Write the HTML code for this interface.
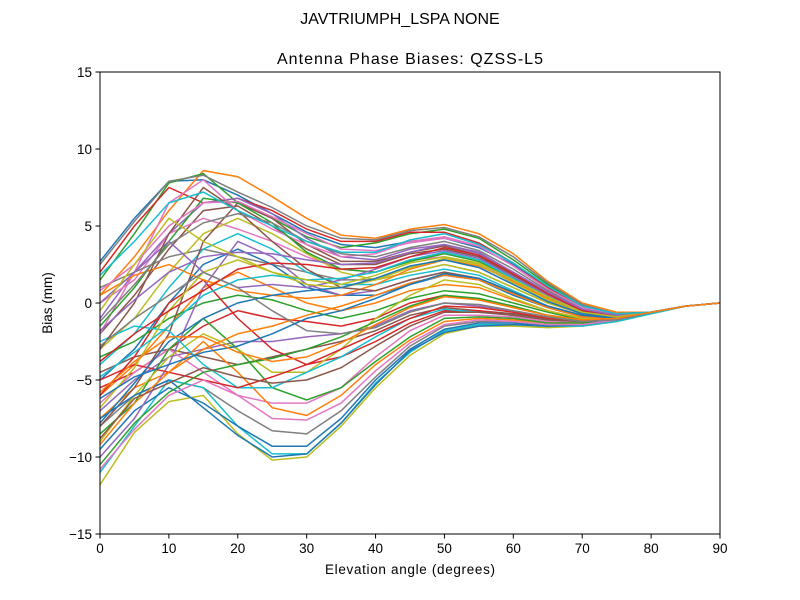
<!DOCTYPE html>
<html><head><meta charset="utf-8"><style>
html,body{margin:0;padding:0;background:#fff;}
svg{display:block;font-family:"Liberation Sans","DejaVu Sans",sans-serif;}
</style></head><body>
<svg id="chart" width="800" height="600">
<rect width="800" height="600" fill="#fff"/>
<text x="400" y="24" text-anchor="middle" font-size="16">JAVTRIUMPH_LSPA NONE</text>
<text x="410" y="64" text-anchor="middle" font-size="16" textLength="266">Antenna Phase Biases: QZSS-L5</text>
<g id="lines"></g>
<rect x="100" y="72" width="620" height="462" fill="none" stroke="#000" stroke-width="1"/>
<g id="xticks"></g>
<g id="yticks"></g>
<text x="410" y="574" text-anchor="middle" font-size="13.5" textLength="170">Elevation angle (degrees)</text>
<text transform="translate(52,303) rotate(-90)" text-anchor="middle" font-size="13.5">Bias (mm)</text>
</svg>
<script>
const elevations=[0,5,10,15,20,25,30,35,40,45,50,55,60,65,70,75,80,85,90];
const xTicks=[0,10,20,30,40,50,60,70,80,90];
const yTicks=[-15,-10,-5,0,5,10,15];
const s1=[2.7,5.5,7.9,8.0,7.0,5.8,4.6,3.8,3.6,4.0,4.2,3.6,2.5,1.0,-0.2,-0.7,-0.6,-0.2,0];
const s2=[0.5,3.0,6.0,8.6,8.2,6.9,5.5,4.4,4.2,4.8,5.1,4.5,3.2,1.4,0.0,-0.6,-0.6,-0.2,0];
const s3=[1.5,4.5,7.8,8.4,6.5,5.5,4.3,3.6,3.9,4.5,4.8,4.2,2.8,1.2,-0.2,-0.7,-0.6,-0.2,0];
const s4=[2.0,5.0,7.5,6.5,6.8,6.0,4.8,4.0,4.0,4.6,4.6,3.9,2.6,1.0,-0.3,-0.8,-0.6,-0.2,0];
const s5=[-1.0,2.0,4.5,6.5,6.8,5.8,4.2,3.0,2.8,3.5,3.8,3.2,2.0,0.7,-0.4,-0.8,-0.6,-0.2,0];
const s6=[-2.0,0.5,3.5,6.0,6.3,5.0,3.5,2.5,2.5,3.2,3.5,3.0,1.8,0.5,-0.5,-0.8,-0.6,-0.2,0];
const s7=[0.0,1.5,4.5,5.5,4.8,4.0,3.0,2.2,2.0,2.8,3.0,2.5,1.5,0.3,-0.6,-0.9,-0.6,-0.2,0];
const s8=[1.0,2.0,3.0,3.5,3.0,2.5,2.0,1.5,1.5,2.0,2.5,2.0,1.0,0.0,-0.7,-0.9,-0.6,-0.2,0];
const s9=[-3.0,-1.0,2.0,4.5,5.5,4.5,3.2,2.0,1.5,2.0,2.5,2.0,1.0,0.0,-0.7,-0.9,-0.6,-0.2,0];
const s10=[-4.0,-2.0,1.0,3.5,4.5,3.5,2.0,1.2,1.2,1.8,2.2,1.8,0.8,-0.2,-0.8,-1.0,-0.6,-0.2,0];
const s11=[-5.0,-3.0,0.0,2.5,3.5,2.5,1.0,0.5,0.5,1.2,1.8,1.5,0.5,-0.3,-0.9,-1.0,-0.6,-0.2,0];
const s12=[-6.0,-4.0,-1.5,1.0,2.0,1.0,0.0,-0.5,0.0,0.8,1.2,1.0,0.2,-0.5,-1.0,-1.0,-0.6,-0.2,0];
const s13=[-3.5,-2.5,-1.0,0.0,0.5,0.2,-0.5,-1.0,-0.5,0.3,0.8,0.6,0.0,-0.6,-1.1,-1.0,-0.6,-0.2,0];
const s14=[-5.5,-4.5,-3.0,-1.5,-0.5,-1.0,-1.2,-1.5,-1.0,0.0,0.5,0.2,-0.3,-0.8,-1.1,-1.0,-0.6,-0.2,0];
const s15=[-7.0,-5.0,-3.5,-3.0,-2.5,-2.5,-2.2,-2.0,-1.5,-0.5,0.0,-0.2,-0.5,-0.9,-1.2,-1.1,-0.6,-0.2,0];
const s16=[-4.5,-3.5,-3.0,-3.5,-4.0,-3.5,-3.0,-2.5,-1.8,-0.8,-0.3,-0.5,-0.7,-1.0,-1.2,-1.1,-0.6,-0.2,0];
const s17=[-6.5,-4.5,-3.0,-4.5,-6.0,-6.5,-6.5,-5.5,-3.5,-1.8,-0.8,-0.8,-0.9,-1.2,-1.3,-1.1,-0.6,-0.2,0];
const s18=[-8.0,-6.0,-5.0,-5.5,-7.0,-8.3,-8.5,-7.0,-4.8,-2.8,-1.5,-1.2,-1.2,-1.4,-1.4,-1.1,-0.6,-0.2,0];
const s19=[-11.8,-8.4,-6.4,-6.0,-8.5,-10.2,-10.0,-8.0,-5.5,-3.4,-2.0,-1.5,-1.5,-1.6,-1.5,-1.2,-0.7,-0.2,0];
const s20=[-11.0,-8.0,-5.0,-5.5,-8.0,-9.8,-9.8,-7.8,-5.2,-3.2,-1.8,-1.4,-1.4,-1.5,-1.5,-1.2,-0.7,-0.2,0];
const s21=[-9.5,-7.0,-5.5,-6.5,-8.0,-9.3,-9.3,-7.5,-5.0,-3.0,-1.7,-1.3,-1.3,-1.5,-1.4,-1.1,-0.6,-0.2,0];
const s22=[-7.5,-5.5,-4.5,-2.5,-4.5,-6.8,-7.3,-6.0,-4.0,-2.4,-1.2,-1.0,-1.1,-1.3,-1.3,-1.1,-0.6,-0.2,0];
const s23=[-8.5,-6.5,-3.0,-1.0,-3.0,-5.5,-6.3,-5.5,-3.8,-2.2,-1.0,-0.9,-1.0,-1.3,-1.3,-1.1,-0.6,-0.2,0];
const s24=[-6.0,-3.5,0.0,1.5,-1.0,-3.0,-4.0,-3.5,-2.5,-1.3,-0.5,-0.5,-0.8,-1.1,-1.2,-1.1,-0.6,-0.2,0];
const s25=[-10.0,-7.5,-4.0,1.0,4.0,3.0,1.2,0.5,0.8,1.5,2.0,1.6,0.6,-0.3,-0.9,-1.0,-0.6,-0.2,0];
const s26=[-8.0,-5.5,-2.0,4.0,6.5,5.5,3.8,2.7,2.7,3.3,3.7,3.1,1.9,0.6,-0.5,-0.8,-0.6,-0.2,0];
const s27=[-2.0,2.0,6.5,8.0,6.0,4.8,3.8,3.0,3.2,4.0,4.3,3.7,2.4,0.9,-0.3,-0.8,-0.6,-0.2,0];
const s28=[2.5,5.3,7.9,8.3,7.2,6.2,5.0,4.2,4.1,4.7,4.9,4.3,3.0,1.3,-0.1,-0.7,-0.6,-0.2,0];
const s29=[-9.0,-6.0,-3.5,-2.0,-3.0,-4.5,-4.5,-3.0,-1.0,0.5,1.5,1.2,0.3,-0.5,-1.0,-1.0,-0.6,-0.2,0];
const s30=[-2.5,-1.5,-1.8,-4.0,-5.5,-5.5,-4.5,-3.5,-2.2,-1.0,-0.4,-0.6,-0.8,-1.1,-1.2,-1.1,-0.6,-0.2,0];
const s31=[-7.5,-6.0,-5.0,-6.8,-8.6,-10.0,-9.8,-7.8,-5.3,-3.1,-1.9,-1.5,-1.4,-1.5,-1.4,-1.1,-0.6,-0.2,0];
const s32=[0.5,1.8,2.5,1.5,0.8,0.5,0.3,0.5,1.2,2.2,2.8,2.4,1.4,0.3,-0.6,-0.9,-0.6,-0.2,0];
const s33=[-1.5,1.0,4.0,6.8,6.5,5.2,3.3,2.2,2.0,2.7,3.2,2.7,1.6,0.4,-0.6,-0.9,-0.6,-0.2,0];
const s34=[-5.0,-4.0,-4.5,-5.0,-5.5,-4.8,-4.0,-3.0,-2.0,-1.0,-0.2,-0.3,-0.6,-1.0,-1.2,-1.1,-0.6,-0.2,0];
const s35=[0.0,2.0,4.0,2.0,1.0,1.2,1.0,1.5,2.2,3.0,3.4,2.9,1.7,0.5,-0.5,-0.9,-0.6,-0.2,0];
const s36=[-3.0,0.0,4.5,7.5,6.0,4.0,2.2,1.0,0.8,1.5,2.0,1.6,0.7,-0.2,-0.8,-1.0,-0.6,-0.2,0];
const s37=[0.8,2.5,5.0,6.5,6.6,5.6,4.5,3.5,3.4,3.9,4.2,3.7,2.4,0.9,-0.3,-0.8,-0.6,-0.2,0];
const s38=[-1.2,1.2,3.8,5.2,5.8,5.2,4.0,3.2,3.0,3.6,4.0,3.4,2.2,0.8,-0.4,-0.8,-0.6,-0.2,0];
const s39=[-6.8,-4.2,-0.5,2.0,2.8,2.0,1.2,1.0,1.5,2.3,2.9,2.5,1.3,0.2,-0.7,-0.9,-0.6,-0.2,0];
const s40=[-4.8,-3.2,-1.5,0.5,1.5,1.8,1.5,1.6,2.0,2.8,3.3,2.8,1.6,0.4,-0.6,-0.9,-0.6,-0.2,0];
const s41=[-7.8,-5.2,-2.5,-1.0,0.0,0.5,0.8,1.0,1.6,2.4,2.8,2.3,1.2,0.1,-0.7,-0.9,-0.6,-0.2,0];
const s42=[-9.2,-6.5,-4.5,-3.0,-2.0,-1.5,-0.8,-0.2,0.5,1.3,1.8,1.5,0.6,-0.3,-0.9,-1.0,-0.6,-0.2,0];
const s43=[-10.5,-7.8,-5.8,-4.5,-4.0,-3.6,-3.0,-2.2,-1.2,-0.2,0.5,0.3,-0.2,-0.8,-1.2,-1.1,-0.6,-0.2,0];
const s44=[-3.8,-2.0,-0.5,0.8,2.2,2.6,2.5,2.2,2.3,3.0,3.6,3.1,1.9,0.6,-0.5,-0.8,-0.6,-0.2,0];
const s45=[-1.8,0.2,2.0,3.0,3.3,3.2,2.8,2.5,2.6,3.3,3.8,3.3,2.0,0.7,-0.4,-0.8,-0.6,-0.2,0];
const s46=[-8.8,-6.2,-5.2,-4.2,-4.8,-5.2,-5.0,-4.2,-2.8,-1.5,-0.6,-0.6,-0.8,-1.1,-1.2,-1.1,-0.6,-0.2,0];
const s47=[-10.8,-8.2,-6.0,-5.0,-6.0,-7.5,-7.6,-6.5,-4.4,-2.6,-1.4,-1.1,-1.2,-1.4,-1.4,-1.1,-0.6,-0.2,0];
const s48=[-2.8,-1.0,0.5,2.0,1.0,-0.5,-1.8,-2.0,-1.6,-0.6,0.0,-0.1,-0.5,-0.9,-1.2,-1.1,-0.6,-0.2,0];
const s49=[-0.5,2.5,5.5,4.0,3.0,2.0,1.5,1.2,1.8,2.6,3.0,2.6,1.5,0.4,-0.6,-0.9,-0.6,-0.2,0];
const s50=[1.8,4.0,6.5,7.2,6.0,5.0,4.0,3.3,3.3,4.1,4.5,3.8,2.6,1.1,-0.2,-0.7,-0.6,-0.2,0];
const s51=[-6.2,-4.8,-4.0,-3.2,-2.8,-2.0,-1.0,-0.5,0.3,1.2,1.9,1.6,0.7,-0.2,-0.8,-1.0,-0.6,-0.2,0];
const s52=[-5.8,-3.8,-2.2,-2.2,-3.2,-3.8,-3.5,-2.6,-1.4,-0.3,0.4,0.2,-0.3,-0.8,-1.1,-1.0,-0.6,-0.2,0];
const seriesList=[s1,s2,s3,s4,s5,s6,s7,s8,s9,s10,s11,s12,s13,s14,s15,s16,s17,s18,s19,s20,s21,s22,s23,s24,s25,s26,s27,s28,s29,s30,s31,s32,s33,s34,s35,s36,s37,s38,s39,s40,s41,s42,s43,s44,s45,s46,s47,s48,s49,s50,s51,s52];
const colors=["#1f77b4","#ff7f0e","#2ca02c","#d62728","#9467bd","#8c564b","#e377c2","#7f7f7f","#bcbd22","#17becf"];
const NS="http://www.w3.org/2000/svg";
const X0=100,X1=720,Y0=534,Y1=72;
function xScale(v){return X0+(v-0)/(90-0)*(X1-X0);}
function yScale(v){return Y0-(v+15)/30*(Y0-Y1);}
const gl=document.getElementById('lines');
seriesList.forEach((s,i)=>{
  const p=document.createElementNS(NS,'polyline');
  p.setAttribute('points',s.map((v,j)=>xScale(elevations[j]).toFixed(1)+','+yScale(v).toFixed(1)).join(' '));
  p.setAttribute('fill','none');
  p.setAttribute('stroke',colors[i%10]);
  p.setAttribute('stroke-width','1.5');
  
  
  gl.appendChild(p);
});
const gx=document.getElementById('xticks');
xTicks.forEach(t=>{
  const x=xScale(t);
  const l=document.createElementNS(NS,'line');
  l.setAttribute('x1',x);l.setAttribute('x2',x);l.setAttribute('y1',534);l.setAttribute('y2',538.5);
  l.setAttribute('stroke','#000');
  
  
  gx.appendChild(l);
  const tx=document.createElementNS(NS,'text');
  tx.setAttribute('x',x);tx.setAttribute('y',553);tx.setAttribute('text-anchor','middle');tx.setAttribute('font-size','13.5');
  tx.textContent=t;
  
  
  gx.appendChild(tx);
});
const gy=document.getElementById('yticks');
yTicks.forEach(t=>{
  const y=yScale(t);
  const l=document.createElementNS(NS,'line');
  l.setAttribute('x1',95.5);l.setAttribute('x2',100);l.setAttribute('y1',y);l.setAttribute('y2',y);
  l.setAttribute('stroke','#000');
  
  
  gy.appendChild(l);
  const tx=document.createElementNS(NS,'text');
  tx.setAttribute('x',92);tx.setAttribute('y',y+5);tx.setAttribute('text-anchor','end');tx.setAttribute('font-size','13.5');
  tx.textContent=t<0?'\u2212'+Math.abs(t):t;
  
  
  gy.appendChild(tx);
});
</script>
</body></html>
